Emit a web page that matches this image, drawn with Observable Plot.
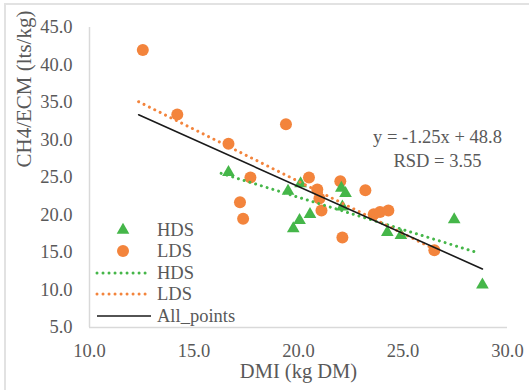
<!DOCTYPE html>
<html><head><meta charset="utf-8">
<script src="https://cdn.jsdelivr.net/npm/d3@7"></script>
<script src="https://cdn.jsdelivr.net/npm/@observablehq/plot@0.6"></script>
<style>
body{margin:0;background:#fff}
#wrap{position:relative;width:529px;height:390px;overflow:hidden;font-family:"Liberation Serif",serif}
#frame{position:absolute;left:4px;top:3px;width:540px;height:400px;border-top:2px solid #e2e2e2;border-left:2px solid #e2e2e2}
#legend{position:absolute;left:0;top:0}
</style>
</head><body><div id="wrap"><div id="frame"></div></div>
<script>
// HDS (green triangles)
const hdsX = [16.65, 19.5, 20.1, 20.55, 20.05, 19.75, 22.05, 22.25, 22.1, 24.25, 24.9, 27.45, 28.8];
const hdsY = [25.7, 23.2, 24.2, 20.1, 19.3, 18.2, 23.6, 22.9, 21.1, 17.7, 17.3, 19.4, 10.7];
// LDS (orange circles)
const ldsX = [12.55, 14.2, 16.65, 17.7, 17.2, 17.35, 19.4, 20.5, 20.9, 21.0, 21.1, 22.0, 23.2, 22.1, 23.6, 23.9, 24.3, 26.5];
const ldsY = [42.0, 33.4, 29.5, 25.0, 21.7, 19.5, 32.1, 25.0, 23.4, 22.2, 20.6, 24.5, 23.3, 17.0, 20.1, 20.4, 20.6, 15.3];
// trend lines
const trendNames = ["HDS", "LDS", "All_points"];
const trendSlope = [-0.862, -1.389, -1.25];
const trendIntercept = [39.6, 52.26, 48.8];
const trendX0 = [16.3, 12.35, 12.35];
const trendX1 = [28.6, 26.5, 28.8];
// axes
const xTicks = [10, 15, 20, 25, 30];
const yTicks = [5, 10, 15, 20, 25, 30, 35, 40, 45];
const xTitle = "DMI (kg DM)";
const yTitle = "CH4/ECM (lts/kg)";
const equationLines = ["y = -1.25x + 48.8", "RSD = 3.55"];
const legendLabels = ["HDS", "LDS", "HDS", "LDS", "All_points"];

const GREEN = "#45b649", ORANGE = "#f3843c", BLACK = "#1a1a1a", GRAY = "#595959";

const hds = hdsX.map((x, i) => ({x, y: hdsY[i]}));
const lds = ldsX.map((x, i) => ({x, y: ldsY[i]}));
const trends = trendNames.map((name, i) => [trendX0[i], trendX1[i]].map(x => ({name, x, y: trendSlope[i] * x + trendIntercept[i]})));

const dotted = {strokeWidth: 3, strokeDasharray: "0.01 6", strokeLinecap: "round"};

const chart = Plot.plot({
  width: 529, height: 390,
  marginLeft: 89, marginRight: 22, marginTop: 27, marginBottom: 63,
  style: {fontFamily: "Liberation Serif", fontSize: "18.5px", color: GRAY, background: "transparent"},
  x: {domain: [10, 30]},
  y: {domain: [5, 45]},
  marks: [
    Plot.ruleX([10], {stroke: "#d9d9d9", strokeWidth: 1.5}),
    Plot.ruleY([5], {stroke: "#d9d9d9", strokeWidth: 1.5}),
    Plot.axisX({ticks: xTicks, tickFormat: d3.format(".1f"), tickSize: 0, tickPadding: 16, label: null}),
    Plot.axisY({ticks: yTicks, tickFormat: d3.format(".1f"), tickSize: 0, tickPadding: 17, label: null}),
    Plot.dot(lds, {x: "x", y: "y", r: 6, fill: ORANGE}),
    Plot.dot(hds, {x: "x", y: "y", symbol: "triangle", r: 4.7, fill: GREEN}),
    Plot.line(trends[0], {x: "x", y: "y", stroke: GREEN, ...dotted}),
    Plot.line(trends[1], {x: "x", y: "y", stroke: ORANGE, ...dotted}),
    Plot.line(trends[2], {x: "x", y: "y", stroke: BLACK, strokeWidth: 1.6}),
    Plot.text([xTitle], {text: d => d, frameAnchor: "bottom", dy: 50, fontSize: 20.5, fill: GRAY}),
    Plot.text([yTitle], {text: d => d, frameAnchor: "left", dx: -65, dy: -10, rotate: -90, fontSize: 21, fill: GRAY}),
    Plot.text([equationLines.join("\n")], {text: d => d, frameAnchor: "top-right", dx: -70, dy: 98, lineHeight: 1.3, textAnchor: "middle", fill: GRAY})
  ]
});
const wrap = document.getElementById("wrap");
chart.style.position = "absolute"; chart.style.left = "0"; chart.style.top = "0";
wrap.appendChild(chart);

// legend overlay
const ns = "http://www.w3.org/2000/svg";
const lg = document.createElementNS(ns, "svg");
lg.setAttribute("id", "legend"); lg.setAttribute("width", 529); lg.setAttribute("height", 390);
const rows = [230, 251, 273, 294, 316];
function el(tag, attrs) { const e = document.createElementNS(ns, tag); for (const k in attrs) e.setAttribute(k, attrs[k]); lg.appendChild(e); return e; }
el("path", {d: d3.symbol(d3.symbolTriangle, Math.PI * 4.7 * 4.7)(), transform: `translate(123,${rows[0]})`, fill: GREEN});
el("circle", {cx: 123, cy: rows[1], r: 6, fill: ORANGE});
el("line", {x1: 97, x2: 151, y1: rows[2], y2: rows[2], stroke: GREEN, "stroke-width": 3, "stroke-dasharray": "0.01 6", "stroke-linecap": "round"});
el("line", {x1: 97, x2: 151, y1: rows[3], y2: rows[3], stroke: ORANGE, "stroke-width": 3, "stroke-dasharray": "0.01 6", "stroke-linecap": "round"});
el("line", {x1: 97, x2: 151, y1: rows[4], y2: rows[4], stroke: BLACK, "stroke-width": 1.6});
legendLabels.forEach((t, i) => {
  const tx = el("text", {x: 157, y: rows[i], dy: "0.35em", fill: GRAY, "font-family": "Liberation Serif", "font-size": "18.5px"});
  tx.textContent = t;
});
wrap.appendChild(lg);
</script>
</body></html>
